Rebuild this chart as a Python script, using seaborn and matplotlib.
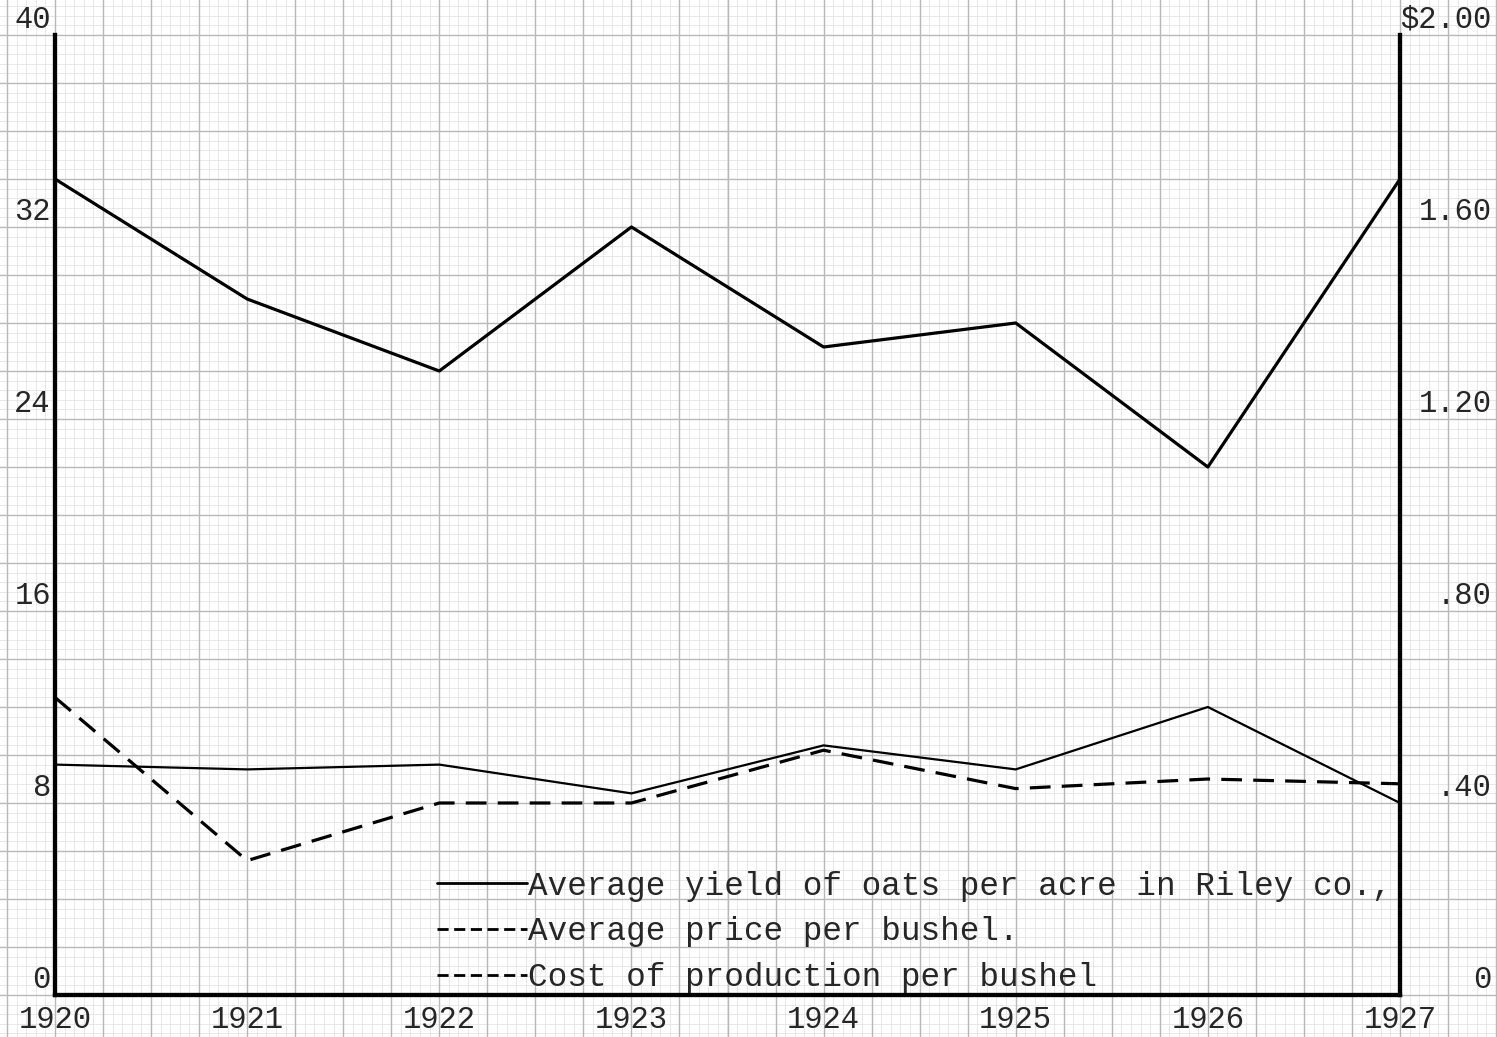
import numpy as np
import pandas as pd
import seaborn as sns
import matplotlib.pyplot as plt
from matplotlib.lines import Line2D

# Данные
years = [1920, 1921, 1922, 1923, 1924, 1925, 1926, 1927]
yield_per_acre = [34, 29, 26, 32, 27, 28, 22, 34]
price_per_bushel = [0.62, 0.28, 0.40, 0.40, 0.51, 0.43, 0.45, 0.44]
cost_per_bushel = [0.48, 0.47, 0.48, 0.42, 0.52, 0.47, 0.60, 0.40]

left_ticks = [0, 8, 16, 24, 32, 40]
left_labels = ['0', '8', '16', '24', '32', '40']
right_ticks = [0, 0.4, 0.8, 1.2, 1.6, 2.0]
right_labels = ['0', '.40', '.80', '1.20', '1.60', '$2.00']

legend_labels = ['Average yield of oats per acre in Riley co.,',
                 'Average price per bushel.',
                 'Cost of production per bushel']

sns.set_style('white')
plt.rcParams['font.family'] = ['Liberation Mono', 'DejaVu Sans Mono']
FONT = 22

df = pd.DataFrame({'year': years, 'yield': yield_per_acre,
                   'price': price_per_bushel, 'cost': cost_per_bushel})

fig = plt.figure(figsize=(14.97, 10.37), dpi=100)
fig.patch.set_facecolor('white')
ax = fig.add_axes([55 / 1497, 42 / 1037, 1345 / 1497, 960 / 1037])
ax.set_facecolor('none')
ax.set_xlim(1920, 1927)
ax.set_ylim(0, 40)

# миллиметровка на весь лист
x_lo, x_hi = 1920 - 60 / 192.14, 1927 + 100 / 192.14
y_lo, y_hi = -45 / 24, 40 + 40 / 24
minor_x = np.arange(1920 - 0.05 * 7, x_hi, 0.05)
minor_y = np.arange(-0.4 * 5, y_hi, 0.4)
major_x = np.arange(1920 - 0.25, x_hi, 0.25)
major_y = np.arange(-2, y_hi, 2)
ax.vlines(minor_x, y_lo, y_hi, colors='#e0e0e0', lw=0.5, clip_on=False, zorder=0)
ax.hlines(minor_y, x_lo, x_hi, colors='#e0e0e0', lw=0.5, clip_on=False, zorder=0)
ax.vlines(major_x, y_lo, y_hi, colors='#b8b8b8', lw=1.0, clip_on=False, zorder=0.5)
ax.hlines(major_y, x_lo, x_hi, colors='#b8b8b8', lw=1.0, clip_on=False, zorder=0.5)

sns.lineplot(data=df, x='year', y='yield', ax=ax, color='black', lw=2.3, legend=False)

ax2 = ax.twinx()
ax2.set_ylim(0, 2.0)
sns.lineplot(data=df, x='year', y='cost', ax=ax2, color='black', lw=1.6, legend=False)
sns.lineplot(data=df, x='year', y='price', ax=ax2, color='black', lw=2.3,
             linestyle=(0, (6.5, 3.5)), legend=False)

for a in (ax, ax2):
    a.spines['top'].set_visible(False)
    for s in ('left', 'right', 'bottom'):
        a.spines[s].set_linewidth(3)
        a.spines[s].set_color('black')
    a.set_xlabel('')
    a.set_ylabel('')

ax.set_xticks(years)
ax.set_xticklabels([str(y) for y in years], fontsize=FONT)
ax.set_yticks(left_ticks)
ax.set_yticklabels(left_labels, fontsize=FONT, va='bottom')
ax.tick_params(axis='both', length=0)
ax.tick_params(axis='x', pad=7)
ax.tick_params(axis='y', pad=3)

ax2.set_yticks(right_ticks)
ax2.set_yticklabels(right_labels, fontsize=FONT, va='bottom', ha='right')
ax2.tick_params(axis='y', length=0, pad=66)

handles = [Line2D([], [], color='black', lw=2.0),
           Line2D([], [], color='black', lw=2.0, linestyle=(0, (4, 2))),
           Line2D([], [], color='black', lw=2.0, linestyle=(0, (4, 2)))]
leg = ax2.legend(handles, legend_labels, loc='lower left',
                 bbox_to_anchor=(0.284, 0.002), frameon=False, fontsize=23.5,
                 handlelength=2.75, handletextpad=0.05, labelspacing=0.45,
                 borderpad=0, borderaxespad=0)

fig.savefig('out.png', dpi=100)
